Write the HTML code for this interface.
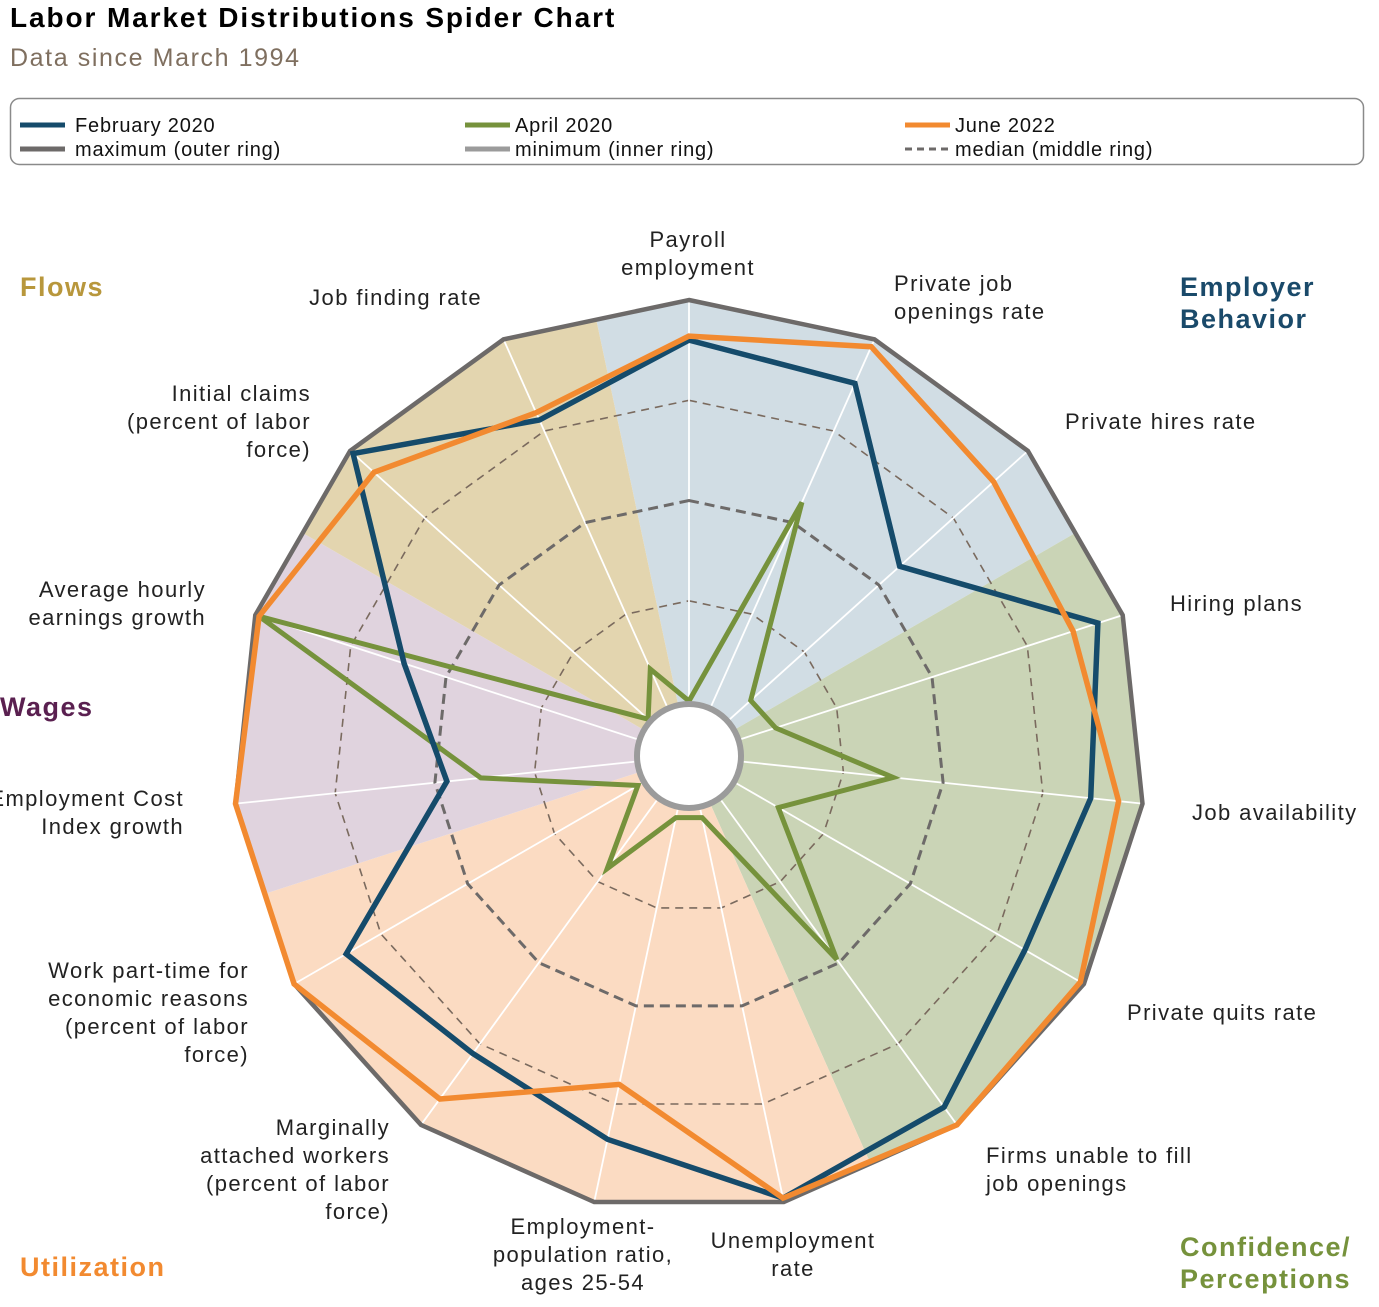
<!DOCTYPE html>
<html><head><meta charset="utf-8"><style>
html,body{margin:0;background:#fff;font-family:"Liberation Sans",Arial,sans-serif;overflow:hidden;width:1379px;height:1307px;}
svg{display:block;}
svg text{font-family:"Liberation Sans",Arial,sans-serif;}
</style></head><body>
<svg id="s" width="1379" height="1307" viewBox="0 0 1379 1307" xmlns="http://www.w3.org/2000/svg">
<text x="10" y="27" font-size="28" font-weight="bold" fill="#000" letter-spacing="1.9">Labor Market Distributions Spider Chart</text>
<text x="10" y="66" font-size="25" fill="#7f6f5f" letter-spacing="1.6">Data since March 1994</text>
<rect x="10.5" y="98.5" width="1353" height="66" rx="9" fill="#fff" stroke="#8a8a8a" stroke-width="1.5"/>
<g stroke-width="5">
<line x1="20" y1="125" x2="65" y2="125" stroke="#154b6b"/>
<line x1="20" y1="149" x2="65" y2="149" stroke="#6d6a69"/>
<line x1="465" y1="125" x2="510" y2="125" stroke="#76923c"/>
<line x1="465" y1="149" x2="510" y2="149" stroke="#9b9b9b"/>
<line x1="905" y1="125" x2="950" y2="125" stroke="#f28a30"/>
<line x1="905" y1="149" x2="950" y2="149" stroke="#6d6a69" stroke-dasharray="7,5" stroke-width="3"/>
</g>
<g font-size="20" fill="#111" letter-spacing="0.8">
<text x="75" y="132">February 2020</text><text x="75" y="156">maximum (outer ring)</text>
<text x="515" y="132">April 2020</text><text x="515" y="156">minimum (inner ring)</text>
<text x="955" y="132">June 2022</text><text x="955" y="156">median (middle ring)</text>
</g>
<g id="chart"></g>
<g font-size="22" fill="#222" letter-spacing="1.4">
<text x="688" y="247" text-anchor="middle">Payroll</text><text x="688" y="275" text-anchor="middle">employment</text>
<text x="894" y="291">Private job</text><text x="894" y="319">openings rate</text>
<text x="1065" y="429">Private hires rate</text>
<text x="1170" y="611">Hiring plans</text>
<text x="1192" y="820">Job availability</text>
<text x="1127" y="1020">Private quits rate</text>
<text x="986" y="1163">Firms unable to fill</text><text x="986" y="1191">job openings</text>
<text x="793" y="1248" text-anchor="middle">Unemployment</text><text x="793" y="1276" text-anchor="middle">rate</text>
<text x="583" y="1234" text-anchor="middle">Employment-</text><text x="583" y="1262" text-anchor="middle">population ratio,</text><text x="583" y="1290" text-anchor="middle">ages 25-54</text>
<g text-anchor="end">
<text x="390" y="1135">Marginally</text><text x="390" y="1163">attached workers</text><text x="390" y="1191">(percent of labor</text><text x="390" y="1219">force)</text>
<text x="249" y="978">Work part-time for</text><text x="249" y="1006">economic reasons</text><text x="249" y="1034">(percent of labor</text><text x="249" y="1062">force)</text>
<text x="184" y="806">Employment Cost</text><text x="184" y="834">Index growth</text>
<text x="206" y="597">Average hourly</text><text x="206" y="625">earnings growth</text>
<text x="311" y="401">Initial claims</text><text x="311" y="429">(percent of labor</text><text x="311" y="457">force)</text>
<text x="482" y="305">Job finding rate</text>
</g>
</g>
<g font-size="27" font-weight="bold" letter-spacing="1.5">
<text x="20" y="296" fill="#b8973c">Flows</text>
<text x="1180" y="296" fill="#1a4a6a">Employer</text><text x="1180" y="328" fill="#1a4a6a">Behavior</text>
<text x="0" y="716" fill="#5a2050">Wages</text>
<text x="20" y="1276" fill="#f28a30">Utilization</text>
<text x="1180" y="1256" fill="#76923c">Confidence/</text><text x="1180" y="1288" fill="#76923c">Perceptions</text>
</g>
</svg>
<script>
var cx=689,cy=756,R0=55,R=456,N=15,ns="http://www.w3.org/2000/svg";
function pt(i,v){var t=i*24*Math.PI/180,r=R0+v*(R-R0);return [cx+r*Math.sin(t),cy-r*Math.cos(t)];}
function ptA(deg,r){var t=deg*Math.PI/180;return [cx+r*Math.sin(t),cy-r*Math.cos(t)];}
var g=document.getElementById("chart");
function el(n,a){var e=document.createElementNS(ns,n);for(var k in a)e.setAttribute(k,a[k]);g.appendChild(e);return e;}
function poly(vals,attrs){var p=vals.map(function(v,i){return pt(i,v).map(function(x){return x.toFixed(1)}).join(",")}).join(" ");attrs.points=p;attrs.fill=attrs.fill||"none";el("polygon",attrs);}
var one=[];for(var i=0;i<N;i++)one.push(1);
var defs=el("defs",{});var cp=document.createElementNS(ns,"clipPath");cp.setAttribute("id","oc");defs.appendChild(cp);
var op=document.createElementNS(ns,"polygon");op.setAttribute("points",one.map(function(v,i){return pt(i,1).join(",")}).join(" "));cp.appendChild(op);
var sect=[[-12,60,"#d1dde4"],[60,156,"#cad4b6"],[156,252,"#fbdbc2"],[252,300,"#e0d3de"],[300,348,"#e3d5af"]];
sect.forEach(function(s){var a=ptA(s[0],700),b=ptA(s[1],700);var large=(s[1]-s[0])>180?1:0;
el("path",{d:"M"+cx+","+cy+" L"+a.join(",")+" A700,700 0 "+large+",1 "+b.join(",")+" Z",fill:s[2],"clip-path":"url(#oc)"});});
var q=[];for(i=0;i<N;i++)q.push(0.25);poly(q,{stroke:"#7a6a5e","stroke-width":1.6,"stroke-dasharray":"8,6"});
q=q.map(function(){return 0.75});poly(q,{stroke:"#7a6a5e","stroke-width":1.6,"stroke-dasharray":"8,6"});
for(i=0;i<N;i++){var a=pt(i,0),b=pt(i,1);el("line",{x1:a[0],y1:a[1],x2:b[0],y2:b[1],stroke:"#fff","stroke-width":1.8});}
q=q.map(function(){return 0.5});poly(q,{stroke:"#6d6a69","stroke-width":3,"stroke-dasharray":"10,6"});
poly(one,{stroke:"#6d6a69","stroke-width":4.5});
var feb=[0.90,0.88,0.57,0.935,0.87,0.83,0.945,0.99,0.84,0.78,0.85,0.47,0.61,0.99,0.78];
var jun=[0.91,0.98,0.885,0.87,0.94,0.99,1.0,0.99,0.70,0.92,1.0,1.0,0.99,0.92,0.80];
var apr=[0.0,0.555,0.07,0.09,0.375,0.12,0.49,0.02,0.02,0.21,0.01,0.385,0.99,0.0,0.1];
poly(apr,{stroke:"#76923c","stroke-width":5,"stroke-linejoin":"miter"});
poly(feb,{stroke:"#154b6b","stroke-width":5.5,"stroke-linejoin":"miter"});
poly(jun,{stroke:"#f28a30","stroke-width":5.5,"stroke-linejoin":"miter"});
el("circle",{cx:cx,cy:cy,r:52,fill:"#fff"});
el("circle",{cx:cx,cy:cy,r:52,fill:"none",stroke:"#9b9b9b","stroke-width":6});
</script>
</body></html>
